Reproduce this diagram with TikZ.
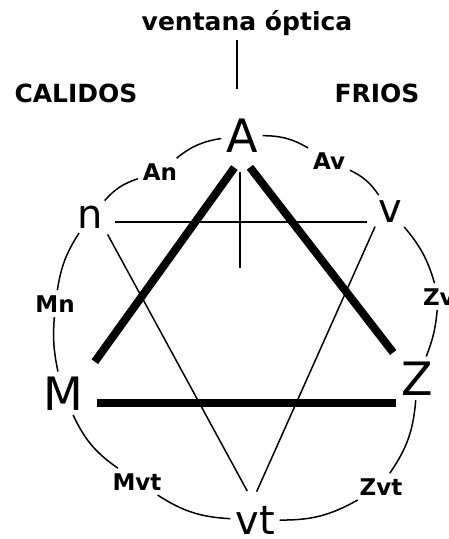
\documentclass[tikz,border=0pt]{standalone}
\usepackage{fontspec}
\setmainfont{DejaVu Sans}
\usetikzlibrary{calc}

\begin{document}
\begin{tikzpicture}[x=1pt,y=1pt,
  every node/.style={inner sep=1pt,outer sep=4pt,anchor=base},
  head/.style={font=\fontsize{25}{25}\selectfont\bfseries},
  lbl/.style={font=\fontsize{23}{23}\selectfont\bfseries},
  letter/.style={font=\fontsize{46}{46}\selectfont},
  lower/.style={font=\fontsize{40}{40}\selectfont},
  ring/.style={line width=1.5pt},
  guide/.style={line width=1.5pt},
  side/.style={line width=8pt}]
 \useasboundingbox (0,0) rectangle (448,-539);
 \node[head] (title) at (247,-30) {ventana óptica};
 \node[head] (warm) at (76,-102) {CALIDOS};
 \node[head] (cold) at (377,-102) {FRIOS};
 \coordinate (window) at (237,-89);
 \coordinate (cross) at (240,-268);
 % colour circle
 \node[letter] (A) at (242,-152) {A};
 \node[lbl] (An) at (160,-180) {An};
 \node[lower] (n) at (90,-228) {n};
 \node[lbl] (Mn) at (55,-312) {Mn};
 \node[letter] (M) at (63,-410) {M};
 \node[lbl] (Mvt) at (137,-490) {Mvt};
 \node[lower] (vt) at (255,-534) {vt};
 \node[lbl] (Zvt) at (381,-495) {Zvt};
 \node[letter] (Z) at (417,-395) {Z};
 \node[lbl,anchor=base west] (Zv) at (418,-305) {Zv};
 \node[lower] (v) at (390,-222) {v};
 \node[lbl] (Av) at (329,-169) {Av};
 \draw[ring] (A) to[bend right=15] (An);
 \draw[ring] (An) to[bend right=15] (n);
 \draw[ring] (n) to[bend right=12] (Mn);
 \draw[ring] (Mn) to[bend right=8] (M);
 \draw[ring] (M) to[bend right=15] (Mvt);
 \draw[ring] (Mvt) to[bend right=15] (vt);
 \draw[ring] (vt) to[bend right=15] (Zvt);
 \draw[ring] (Zvt) to[bend right=15] (Z);
 \draw[ring] (Z) to[bend right=8] (Zv);
 \draw[ring] (Zv) to[bend right=12] (v);
 \draw[ring] (v) to[bend right=15] (Av);
 \draw[ring] (Av) to[bend right=15] (A);
 % axes
 \draw[guide] (title.south -| window) -- (window);
 \draw[guide,shorten <=15pt] (A.south -| cross) -- (cross);
 \draw[guide,shorten <=7pt,shorten >=6pt] ([yshift=-5pt]n.east)
    -- ([yshift=-5pt]n.east -| v.west);
 \draw[guide,shorten <=20pt,shorten >=33pt] ([xshift=8pt]n.center)
    -- ([xshift=8pt]vt.center);
 \draw[guide,shorten <=17pt,shorten >=31pt] ([xshift=-8pt]v.center)
    -- ([xshift=-11pt]vt.center);
 % triangle
 \draw[side,shorten <=13pt,shorten >=12pt] (A.south) -- (M.north east);
 \draw[side,shorten <=13pt,shorten >=5pt] (A.south) -- (Z.north west);
 \draw[side,shorten <=9pt] ([yshift=-10pt]M.east)
    -- ([yshift=-10pt]M.east -| Z.west);
\end{tikzpicture}
\end{document}
